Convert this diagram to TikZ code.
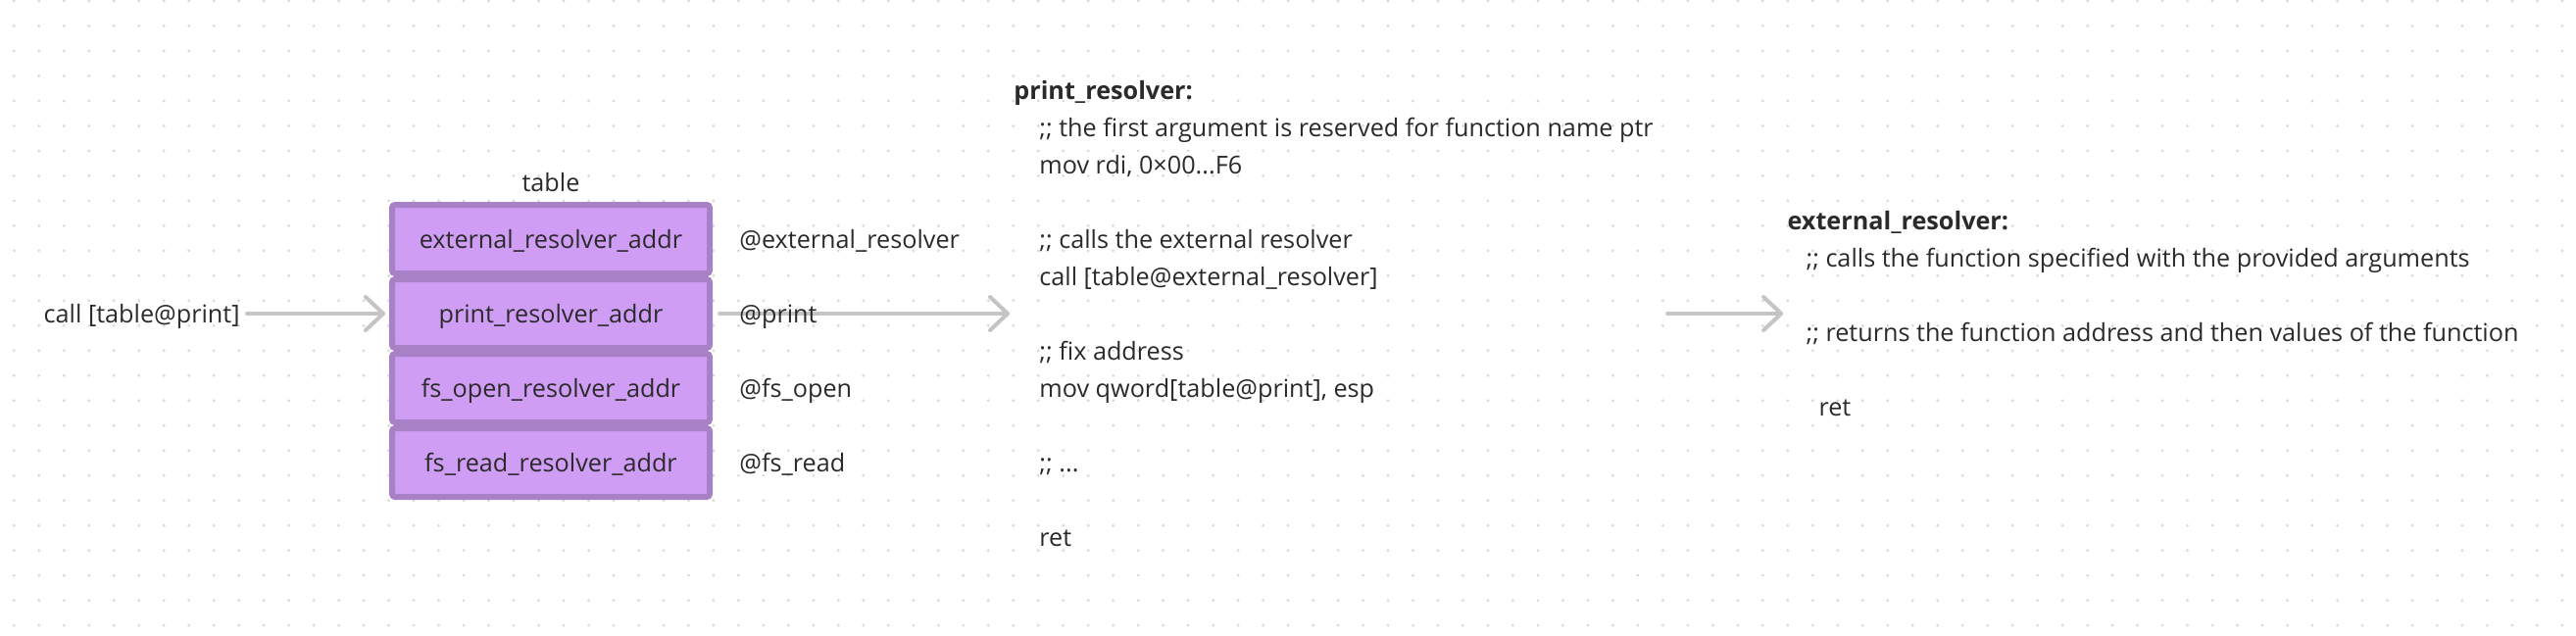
\documentclass[tikz,border=0pt]{standalone}
\usepackage{xcolor}
\usepackage{fontspec}
\setmainfont{Open Sans}
\usepackage{tikz}
\usetikzlibrary{arrows.meta, positioning, calc, backgrounds}
\definecolor{slotfill}{RGB}{208,157,245}
\definecolor{slotline}{RGB}{168,128,198}
\definecolor{wire}{RGB}{196,196,196}
\definecolor{ink}{RGB}{42,42,42}
\definecolor{griddot}{RGB}{218,218,218}
\tikzset{
  entry/.style     = {rectangle, rounded corners=1.5pt, draw=slotline, fill=slotfill,
                      line width=3pt, minimum height=35pt, minimum width=162pt,
                      text height=9pt, text depth=0pt,
                      align=center, font=\fontsize{12.6}{15}\selectfont, text=ink},
  addrtag/.style   = {inner sep=0pt, text height=9pt, text depth=0pt,
                      font=\fontsize{12.6}{15}\selectfont, text=ink},
  codeblock/.style = {align=left, inner sep=0pt, font=\fontsize{12.6}{19}\selectfont, text=ink},
  arrow/.style     = {-{Straight Barb[round, length=9pt, width=17pt]}, line width=2pt,
                      wire, line cap=round, line join=round,
                      shorten <=3.5pt, shorten >=2pt},
}

\begin{document}
\begin{tikzpicture}[x=0.5pt, y=-0.5pt]
  \useasboundingbox (0,0) rectangle (2628,648);
  % dotted canvas
  \begin{scope}[on background layer]
    \foreach \i in {0,...,102}
      \foreach \j in {0,...,25}
        \fill[griddot] ({14.3+25.486*\i},{1+25.486*\j}) circle (0.8pt);
  \end{scope}

  % the table
  \node[entry] (ext) at (562,244) {external\_resolver\_addr};
  \node[entry, below=0pt of ext] (prt) {print\_resolver\_addr};
  \node[entry, below=0pt of prt] (fso) {fs\_open\_resolver\_addr};
  \node[entry, below=0pt of fso] (fsr) {fs\_read\_resolver\_addr};
  \node[addrtag, above=5pt of ext] (tbl) {table};

  \node[addrtag, left=76pt of prt] (call) {call [table@print]};
  \node[addrtag, right=13.5pt of ext] (aext) {@external\_resolver};
  \node[addrtag, right=13.5pt of prt] (aprt) {@print};
  \node[addrtag, right=13.5pt of fso] (afso) {@fs\_open};
  \node[addrtag, right=13.5pt of fsr] (afsr) {@fs\_read};

  % resolvers
  \node[codeblock, right=153.5pt of prt] (prs) {%
    {\bfseries print\_resolver:}\\
    \hspace*{13pt};; the first argument is reserved for function name ptr\\
    \hspace*{13pt}mov rdi, 0×00...F6\\[19pt]
    \hspace*{13pt};; calls the external resolver\\
    \hspace*{13pt}call [table@external\_resolver]\\[19pt]
    \hspace*{13pt};; fix address\\
    \hspace*{13pt}mov qword[table@print], esp\\[19pt]
    \hspace*{13pt};; ...\\[19pt]
    \hspace*{13pt}ret};
  \node[codeblock, right=68pt of prs] (extr) {%
    {\bfseries external\_resolver:}\\
    \hspace*{9.5pt};; calls the function specified with the provided arguments\\[19pt]
    \hspace*{9.5pt};; returns the function address and then values of the function\\[19pt]
    \hspace*{16pt}ret};

  \begin{scope}[on background layer]
    \draw[arrow] (call) -- (prt);
    \draw[arrow] (prt.east) -- (prt.east -| prs.west);
    \draw[arrow, shorten <=7pt] (prs.east |- prt.east) -- (prt.east -| extr.west);
  \end{scope}
\end{tikzpicture}
\end{document}
